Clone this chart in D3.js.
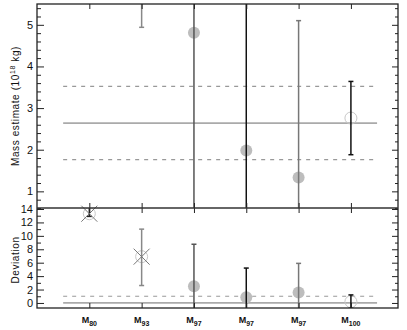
<!DOCTYPE html>
<html>
<head>
<meta charset="utf-8">
<script src="https://cdn.jsdelivr.net/npm/d3@7"></script>
<style>
  body { margin: 0; background: #fff; }
  svg { font-family: "Liberation Sans", Arial, sans-serif; }
  .axis path { display: none; }
  .axis line { stroke: #222; stroke-width: 1; }
  .axis text { font-size: 11px; fill: #111; }
</style>
</head>
<body>
<div id="chart"></div>
<script>
// categories (subscript of M)
const labels = ["80", "93", "97", "97", "97", "100"];
const markerKind = ["cross", "cross", "dot", "dot", "dot", "open"];

// upper panel: mass estimate (10^18 kg)
const massValue = [0.25, 8.7, 4.81, 1.98, 1.33, 2.76];
const massLow   = [0.15, 4.94, 0.2, 0.3, 0.4, 1.88];
const massHigh  = [0.4, 12.5, 9.5, 6.0, 5.1, 3.64];
const massMean = 2.64, massSigma = 0.88;

// lower panel: deviation
const devValue = [13.3, 6.9, 2.5, 0.85, 1.55, 0.2];
const devLow   = [12.9, 2.6, -2, -2, -2, -0.8];
const devHigh  = [14.5, 11.0, 8.75, 5.2, 5.9, 1.2];

const massTicks = [1, 2, 3, 4, 5];
const devTicks = [0, 2, 4, 6, 8, 10, 12, 14];

const barColor = ["#222", "#888", "#555", "#111", "#777", "#111"];

const W = 407, H = 330;
const pLeft = 37, pRight = 398, pTop = 4, pMid = 208, pBottom = 308;

const svg = d3.select("#chart").append("svg")
  .attr("width", W).attr("height", H);

const x = d3.scaleLinear().domain([0, 6.9]).range([pLeft, pRight]);
const yTop = d3.scaleLinear().domain([0.6, 5.5]).range([pMid, pTop]);
const yBot = d3.scaleLinear().domain([-0.75, 14.15]).range([pBottom, pMid]);

const idx = labels.map((d, i) => i);

function clip(id, y0, y1) {
  svg.append("clipPath").attr("id", id).append("rect")
    .attr("x", pLeft).attr("y", y0).attr("width", pRight - pLeft).attr("height", y1 - y0);
}
clip("clipTop", pTop, pMid);
clip("clipBot", pMid, pBottom);

function panel(y, clipId, vals, lows, highs, refs) {
  const g = svg.append("g").attr("clip-path", "url(#" + clipId + ")");
  // reference lines
  refs.forEach(r => {
    g.append("line")
      .attr("x1", x(0.5)).attr("x2", x(6.5))
      .attr("y1", y(r.v)).attr("y2", y(r.v))
      .attr("stroke", r.dash ? "#999" : "#aaa")
      .attr("stroke-width", r.dash ? 1.2 : 1.8)
      .attr("stroke-dasharray", r.dash ? "4,5" : null);
  });
  // filled / open circles
  g.selectAll("circle.m").data(idx).enter().append("circle")
    .attr("cx", i => x(i + 1)).attr("cy", i => y(vals[i])).attr("r", 6)
    .attr("fill", i => markerKind[i] === "dot" ? "#bdbdbd" : "none")
    .attr("stroke", i => markerKind[i] === "dot" ? "none" : "#c8c8c8")
    .attr("stroke-width", 1);
  // error bars
  g.selectAll("line.eb").data(idx).enter().append("line")
    .attr("x1", i => x(i + 1)).attr("x2", i => x(i + 1))
    .attr("y1", i => y(lows[i])).attr("y2", i => y(highs[i]))
    .attr("stroke", i => barColor[i]).attr("stroke-width", 1.5);
  ["low", "high"].forEach(k => {
    const arr = k === "low" ? lows : highs;
    g.selectAll("line.cap" + k).data(idx).enter().append("line")
      .attr("x1", i => x(i + 1) - 2.5).attr("x2", i => x(i + 1) + 2.5)
      .attr("y1", i => y(arr[i])).attr("y2", i => y(arr[i]))
      .attr("stroke", i => barColor[i]).attr("stroke-width", 1.5);
  });
  return idx.filter(i => markerKind[i] === "cross");
}

panel(yTop, "clipTop", massValue, massLow, massHigh,
  [{ v: massMean, dash: false }, { v: massMean + massSigma, dash: true }, { v: massMean - massSigma, dash: true }]);
const crossBot = panel(yBot, "clipBot", devValue, devLow, devHigh,
  [{ v: 0, dash: false }, { v: 1, dash: true }]);

// X markers are drawn unclipped (they overhang the panel edge)
function drawCross(y, vals, list) {
  list.forEach(i => {
    const cx = x(i + 1), cy = y(vals[i]), s = 8;
    [[-s, -s, s, s], [-s, s, s, -s]].forEach(p => {
      svg.append("line")
        .attr("x1", cx + p[0]).attr("y1", cy + p[1])
        .attr("x2", cx + p[2]).attr("y2", cy + p[3])
        .attr("stroke", "#777").attr("stroke-width", 1);
    });
  });
}
drawCross(yBot, devValue, crossBot);

// axes: left / right with minor ticks
function yAxes(y, major, minorStep) {
  const dom = y.domain();
  const minor = d3.range(Math.ceil(dom[0] / minorStep) * minorStep, dom[1], minorStep)
    .filter(v => !major.some(m => Math.abs(m - v) < 1e-6));
  svg.append("g").attr("class", "axis").attr("transform", `translate(${pLeft},0)`)
    .call(d3.axisLeft(y).tickValues(major).tickSize(-7).tickPadding(4).tickFormat(d3.format("d")));
  svg.append("g").attr("class", "axis").attr("transform", `translate(${pLeft},0)`)
    .call(d3.axisLeft(y).tickValues(minor).tickSize(-4).tickFormat(""));
  svg.append("g").attr("class", "axis").attr("transform", `translate(${pRight},0)`)
    .call(d3.axisRight(y).tickValues(major).tickSize(-6).tickFormat(""));
  svg.append("g").attr("class", "axis").attr("transform", `translate(${pRight},0)`)
    .call(d3.axisRight(y).tickValues(minor).tickSize(-3).tickFormat(""));
}
yAxes(yTop, massTicks, 0.2);
yAxes(yBot, devTicks, 1);

// category ticks on horizontal edges
const catVals = idx.map(i => i + 1);
svg.append("g").attr("class", "axis").attr("transform", `translate(0,${pTop})`)
  .call(d3.axisTop(x).tickValues(catVals).tickSize(-5).tickFormat(""));
svg.append("g").attr("class", "axis").attr("transform", `translate(0,${pMid})`)
  .call(d3.axisBottom(x).tickValues(catVals).tickSize(-5).tickFormat(""));
svg.append("g").attr("class", "axis").attr("transform", `translate(0,${pMid})`)
  .call(d3.axisTop(x).tickValues(catVals).tickSize(-5).tickFormat(""));
svg.append("g").attr("class", "axis").attr("transform", `translate(0,${pBottom})`)
  .call(d3.axisBottom(x).tickValues(catVals).tickSize(-5).tickFormat(""));

// frames
svg.append("rect").attr("x", pLeft).attr("y", pTop)
  .attr("width", pRight - pLeft).attr("height", pBottom - pTop)
  .attr("fill", "none").attr("stroke", "#222").attr("stroke-width", 1.3);
svg.append("line").attr("x1", pLeft).attr("x2", pRight).attr("y1", pMid).attr("y2", pMid)
  .attr("stroke", "#333").attr("stroke-width", 1.6);

// category labels M_n
const xl = svg.selectAll("text.xl").data(idx).enter().append("text")
  .attr("x", i => x(i + 1)).attr("y", 323)
  .attr("text-anchor", "middle")
  .attr("font-size", 9).attr("font-weight", "bold").attr("fill", "#111");
xl.append("tspan").text("M");
xl.append("tspan").attr("font-size", 7).attr("dy", 3).text(i => labels[i]);

// axis titles
const t1 = svg.append("text")
  .attr("transform", `translate(19,${(pTop + pMid) / 2}) rotate(-90)`)
  .attr("text-anchor", "middle").attr("font-size", 10).attr("fill", "#111")
  .attr("letter-spacing", 0.6);
t1.append("tspan").text("Mass estimate (10");
t1.append("tspan").attr("font-size", 7).attr("dy", -4).text("18");
t1.append("tspan").attr("dy", 4).text(" kg)");

svg.append("text")
  .attr("transform", `translate(19,${(pMid + pBottom) / 2 + 2}) rotate(-90)`)
  .attr("text-anchor", "middle").attr("font-size", 10).attr("fill", "#111")
  .attr("letter-spacing", 0.6)
  .text("Deviation");
</script>
</body>
</html>
